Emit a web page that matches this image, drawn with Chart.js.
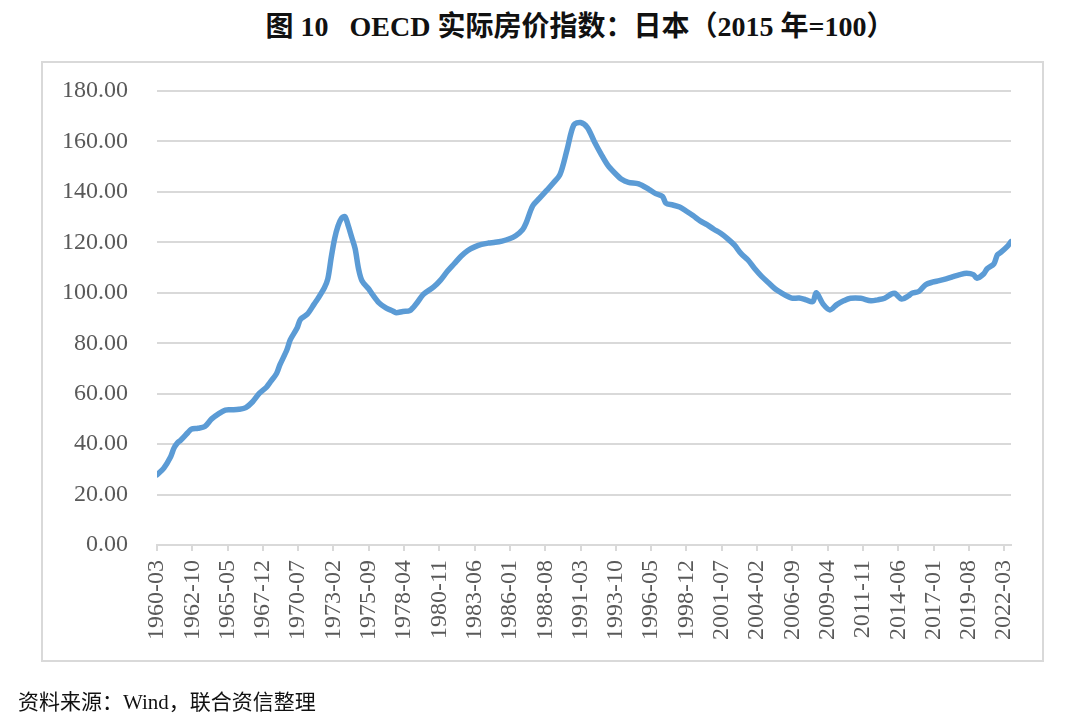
<!DOCTYPE html>
<html>
<head>
<meta charset="utf-8">
<script src="https://cdn.jsdelivr.net/npm/chart.js@4/dist/chart.umd.min.js"></script>
<style>
    body { margin: 0; background: #fff; width: 1080px; height: 718px; position: relative; overflow: hidden; }
    #title {
        position: absolute; left: 0; width: 1160px; top: 4px; text-align: center;
        font-family: "Liberation Serif", "Noto Sans CJK SC", serif; font-size: 28px; font-weight: bold; color: #111;
        white-space: pre;
    }
    #frame { position: absolute; left: 41px; top: 61px; width: 999px; height: 597px; border: 2px solid #d9d9d9; }
    #source {
        position: absolute; left: 18px; top: 685px;
        font-family: "Liberation Serif", "Noto Sans CJK SC", serif; font-size: 21px; color: #111;
    }
    #houseChart { position: absolute; left: 0; top: 0; }
</style>
</head>
<body>
<div id="title">图 10   OECD 实际房价指数：日本（2015 年=100）</div>
<div id="frame"></div>
<canvas id="houseChart" width="1080" height="718"></canvas>
<div id="source">资料来源：Wind，联合资信整理</div>
<script>
const dates = [
    '1960-03', '1960-09', '1961-03', '1961-06', '1961-09', '1961-12', '1962-06', '1962-09', '1963-03', '1963-09',
    '1964-03', '1964-09', '1965-03', '1965-09', '1966-03', '1966-09', '1967-03', '1967-09', '1968-03', '1968-06',
    '1968-12', '1969-03', '1969-09', '1969-12', '1970-06', '1970-09', '1971-03', '1971-09', '1971-12', '1972-06',
    '1972-09', '1972-12', '1973-03', '1973-06', '1973-09', '1973-12', '1974-03', '1974-06', '1974-09', '1974-12',
    '1975-03', '1975-09', '1975-12', '1976-06', '1976-12', '1977-06', '1977-09', '1978-03', '1978-09', '1979-03',
    '1979-09', '1980-06', '1980-12', '1981-06', '1981-12', '1982-06', '1982-12', '1983-06', '1983-12', '1984-06',
    '1984-12', '1985-06', '1985-12', '1986-06', '1986-12', '1987-03', '1987-09', '1988-03', '1988-09', '1989-03',
    '1989-09', '1990-03', '1990-09', '1991-03', '1991-09', '1992-03', '1992-09', '1993-03', '1993-09', '1994-03',
    '1994-09', '1995-06', '1996-03', '1996-09', '1997-03', '1997-06', '1997-12', '1998-06', '1998-12', '1999-06',
    '1999-12', '2000-06', '2000-12', '2001-06', '2001-12', '2002-06', '2002-12', '2003-06', '2003-12', '2004-06',
    '2004-12', '2005-06', '2005-12', '2006-06', '2006-09', '2007-03', '2007-09', '2008-03', '2008-06', '2008-12',
    '2009-06', '2009-12', '2010-06', '2010-12', '2011-09', '2012-06', '2012-12', '2013-06', '2013-12', '2014-03',
    '2014-09', '2015-03', '2015-06', '2015-12', '2016-06', '2016-12', '2017-06', '2017-12', '2018-06', '2018-12',
    '2019-06', '2019-12', '2020-03', '2020-09', '2020-12', '2021-06', '2021-09', '2021-12', '2022-06', '2022-09'
];
const priceIndex = [
    27.8, 30.5, 35.0, 38.5, 40.5, 41.6, 44.5, 45.9, 46.3, 47.0,
    50.0, 52.0, 53.5, 53.6, 53.8, 54.5, 56.8, 60.2, 62.5, 64.3,
    68.0, 71.5, 77.3, 81.3, 86.0, 89.5, 91.5, 95.5, 97.5, 102.0,
    105.5, 114.0, 121.5, 126.5, 129.5, 130.2, 126.5, 122.0, 117.5, 109.5,
    104.8, 101.5, 99.5, 96.0, 94.0, 92.8, 92.1, 92.6, 92.9, 95.8,
    99.4, 102.3, 105.0, 108.5, 111.5, 114.5, 116.8, 118.2, 119.2, 119.7,
    120.0, 120.5, 121.3, 122.6, 125.0, 127.5, 134.5, 137.5, 140.5, 143.5,
    147.0, 156.5, 166.5, 167.5, 165.5, 160.0, 155.0, 150.5, 147.5, 145.0,
    143.8, 143.2, 141.0, 139.3, 138.2, 135.5, 134.8, 134.0, 132.3, 130.5,
    128.5, 127.0, 125.2, 123.6, 121.5, 119.0, 115.5, 113.0, 109.5, 106.5,
    104.0, 101.5, 99.8, 98.3, 97.8, 97.9, 97.2, 96.5, 100.0, 95.5,
    93.2, 95.3, 96.8, 97.8, 97.8, 96.8, 97.2, 97.8, 99.5, 99.8,
    97.5, 98.8, 99.8, 100.5, 103.2, 104.2, 104.8, 105.5, 106.4, 107.2,
    107.7, 107.2, 105.8, 107.5, 109.5, 111.5, 115.0, 116.0, 118.5, 120.3
];
const tickLabels = [
    '1960-03', '1962-10', '1965-05', '1967-12', '1970-07', '1973-02', '1975-09', '1978-04', '1980-11',
    '1983-06', '1986-01', '1988-08', '1991-03', '1993-10', '1996-05', '1998-12', '2001-07', '2004-02',
    '2006-09', '2009-04', '2011-11', '2014-06', '2017-01', '2019-08', '2022-03'
];
const yTicks = [0, 20, 40, 60, 80, 100, 120, 140, 160, 180];

// months since the first observation
function monthIndex(label) {
    const parts = label.split('-');
    return (parseInt(parts[0]) - 1960) * 12 + parseInt(parts[1]) - 3;
}

const points = dates.map((d, i) => ({ x: monthIndex(d), y: priceIndex[i] }));
const tickMonths = tickLabels.map(monthIndex);
const gridColor = '#d9d9d9';
const labelColor = '#595959';

const ctx = document.getElementById('houseChart').getContext('2d');
const houseChart = new Chart(ctx, {
    type: 'line',
    data: {
        datasets: [{
            label: 'OECD 实际房价指数：日本',
            data: points,
            borderColor: '#5b9bd5',
            borderWidth: 5.5,
            pointRadius: 0,
            tension: 0.3,
            borderCapStyle: 'round',
            borderJoinStyle: 'round',
            fill: false
        }]
    },
    options: {
        responsive: false,
        animation: false,
        devicePixelRatio: 1,
        layout: { padding: { top: 91, right: 69, left: 0, bottom: 0 } },
        scales: {
            x: {
                type: 'linear',
                min: 0,
                max: monthIndex('2022-09'),
                afterBuildTicks: axis => {
                    axis.ticks = tickMonths.map(v => ({ value: v }));
                },
                afterFit: axis => { axis.height = 173; },
                ticks: {
                    autoSkip: false,
                    minRotation: 90,
                    maxRotation: 90,
                    padding: 9,
                    color: labelColor,
                    font: { family: 'Liberation Serif', size: 24 },
                    callback: value => tickLabels[tickMonths.indexOf(value)]
                },
                grid: { drawOnChartArea: false, drawTicks: true, tickLength: 6, color: gridColor, lineWidth: 2 },
                border: { color: gridColor, width: 2 }
            },
            y: {
                min: 0,
                max: 180,
                afterBuildTicks: axis => {
                    axis.ticks = yTicks.map(v => ({ value: v }));
                },
                afterFit: axis => { axis.width = 157; },
                ticks: {
                    padding: 29,
                    color: labelColor,
                    font: { family: 'Liberation Serif', size: 24 },
                    callback: value => value.toFixed(2)
                },
                grid: { color: gridColor, lineWidth: 2, drawTicks: false },
                border: { display: false }
            }
        },
        plugins: {
            legend: { display: false },
            tooltip: { enabled: false }
        }
    }
});
</script>
</body>
</html>
